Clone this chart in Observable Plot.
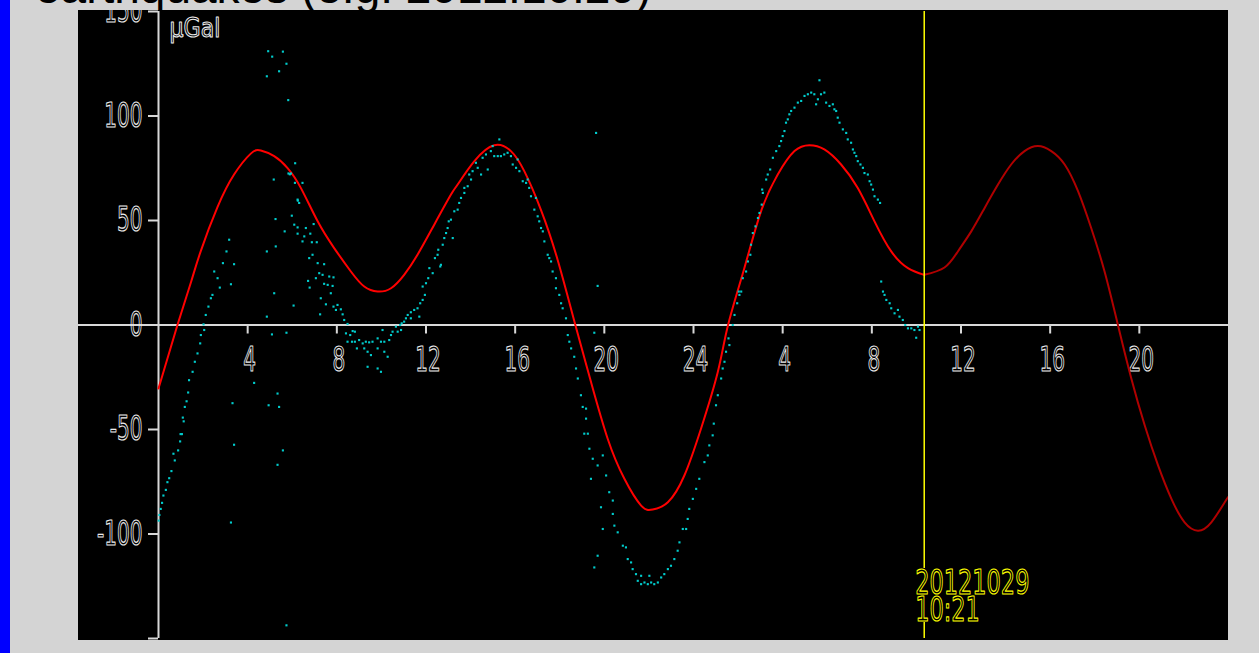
<!DOCTYPE html>
<html><head><meta charset="utf-8">
<script src="https://cdn.jsdelivr.net/npm/d3@7"></script>
<script src="https://cdn.jsdelivr.net/npm/@observablehq/plot@0.6"></script>
<style>
html,body{margin:0;padding:0;background:#d4d4d4;width:1259px;height:653px;overflow:hidden;position:relative}
#bar{position:absolute;left:0;top:0;width:10px;height:653px;background:#0000ff}
#title{position:absolute;left:35px;top:-36px;font:46px/46px "Liberation Sans",Arial,sans-serif;color:#000;white-space:nowrap}
#chart{position:absolute;left:78px;top:10px}
</style></head><body>
<div id="title">earthquakes (e.g. 2012.10.29)</div>
<div id="bar"></div>
<div id="chart"></div>
<script>
// ---- data ----
const tideHours = [0,0.85,1.46,1.9,2.65,3.39,4.14,4.59,5.19,5.79,6.39,7.14,7.88,8.63,9.23,9.83,10.43,11.02,11.62,12.37,13.12,13.42,14.17,15.06,15.81,16.41,17.16,17.91,18.7,19.4,20.15,20.9,21.65,22.17,22.85,23.59,24.34,25.09,25.55,26.28,27.03,27.78,28.53,29.2,29.87,30.62,31.37,32.12,32.87,33.62,34.35,35.26,35.86,36.46,37.06,37.66,38.25,38.85,39.45,40.05,40.65,41.25,41.84,42.44,43.04,43.64,44.24,44.84,45.44,46.03,46.63,47.23,47.83,48.05];
const tideValues = [-30.4,0,20.6,35.5,56.5,72,82,83.5,80.8,75.1,65.5,49.6,36.8,25.6,18.4,16.0,17.6,24.0,33.6,48,62.4,67.2,78.4,86.0,83.2,73.6,55,31,0,-27.2,-54.4,-73.6,-86.4,-88.3,-84.8,-72,-49.5,-22.5,0,27.2,54.4,72,83.2,86,84,76.8,65.5,49.6,35.2,27.2,24,27.5,35.2,44.8,56,67.2,76.8,83.2,85.6,83.2,76.8,64,46.4,25.6,0,-25.6,-48,-67.2,-83.2,-94.4,-98.4,-94.4,-84.8,-81.6];

const obsHours = [0.01,0.04,0.1,0.16,0.22,0.33,0.4,0.48,0.58,0.67,0.73,0.88,0.97,0.99,1.05,1.09,1.13,1.18,1.26,1.33,1.37,1.53,1.63,1.75,1.87,1.9,2.05,2.02,2.12,2.24,2.35,2.42,2.5,2.75,2.65,2.89,3.05,3.17,3.25,3.39,
3.25,3.32,3.39,4.29,4.86,4.86,4.86,4.92,4.94,5.09,5.1,5.17,5.19,5.25,5.26,5.34,5.34,5.41,5.41,5.58,5.58,5.66,5.74,5.74,5.74,5.82,5.89,6.12,6.13,6.25,6.46,
5.83,5.94,6.24,6.31,5.98,6.09,6.24,6.61,6.96,6.24,6.54,6.81,6.46,6.88,7.1,6.91,6.76,7.14,7.43,7.21,7.36,7.66,7.85,7.06,7.43,7.59,6.71,6.78,7.81,7.28,7.73,6.06,7.51,7.85,8.03,7.96,8.18,7.25,8.26,8.33,8.48,8.71,8.6,8.81,8.41,8.48,8.68,8.81,9.0,9.16,9.3,9.45,9.6,9.83,9.98,10.13,10.05,10.35,10.43,10.5,10.73,10.65,10.84,10.91,10.88,8.9,9.23,9.38,9.53,9.83,10.13,10.28,9.38,9.83,9.98,
11.02,11.1,11.18,11.32,11.47,11.62,11.74,11.85,11.7,11.32,11.95,11.85,12.0,12.1,12.15,12.3,12.4,12.52,12.64,12.55,12.75,12.82,12.9,12.97,13.02,12.67,
13.2,13.12,13.27,13.42,13.49,13.57,13.72,13.72,13.87,14.02,13.94,14.09,14.32,14.47,14.24,14.54,14.69,14.77,14.91,15.06,15.22,15.36,15.51,15.66,15.81,14.99,15.29,15.89,16.04,16.11,16.19,16.34,16.49,16.56,16.63,16.71,16.93,16.86,17.01,17.08,17.16,17.24,17.31,17.46,17.53,17.61,17.68,17.83,17.83,17.98,18.06,18.13,18.28,18.36,18.43,18.51,18.65,18.73,18.81,18.95,19.03,19.18,19.18,19.1,19.26,19.33,19.48,19.4,19.7,19.93,20.08,20.22,20.38,19.85,19.93,20.38,20.45,20.6,20.83,20.97,21.05,21.2,21.27,21.42,21.5,21.65,21.8,21.95,22.1,22.24,22.4,21.65,22.02,22.55,22.69,22.85,22.99,23.14,23.29,23.37,23.52,23.67,23.74,23.81,23.97,24.12,24.26,24.49,24.64,24.71,24.86,24.91,25.01,25.09,25.24,25.31,25.39,25.46,25.57,25.76,25.84,25.96,26.03,
19.63,19.7,19.55,19.7,19.55,
25.61,26.06,26.14,26.21,26.36,26.44,26.55,26.58,26.66,26.78,26.89,26.96,27.06,27.11,27.08,27.26,27.33,27.44,27.56,27.71,27.85,27.93,28.0,28.08,28.15,28.23,28.3,28.38,28.53,28.68,28.83,28.98,29.13,29.28,29.42,29.5,29.65,29.58,29.72,29.87,29.95,30.1,30.25,30.32,30.4,30.47,30.55,30.7,30.85,30.92,31.07,31.15,31.22,31.3,31.37,31.49,31.6,31.67,31.82,31.9,31.97,32.05,32.12,32.27,32.37,
32.42,32.5,32.57,32.65,32.8,32.87,33.02,33.17,33.24,33.39,33.5,33.62,33.77,33.91,34.07,33.99,34.14];
const obsValues = [-93.6,-90.9,-88,-85.1,-81.6,-78.9,-75.2,-73.3,-69.9,-61.6,-64.8,-60,-55.7,-52.2,-52.2,-44.3,-46.1,-39.2,-36.5,-32.3,-26.4,-22.4,-17.6,-13.6,-8.8,-4.8,-2.4,0.3,4.8,8.8,12.8,14.4,25.6,17.9,22.4,29.6,35.2,40.8,19.5,29.1,
-94.5,-37.4,-57.3,-27.7,119,35.2,4,131,-38.4,-4.5,128.4,69.6,15.2,50.7,37.6,-32.8,-66.9,121.4,-39.2,130.8,-60,44.8,125,-3.7,-143.7,107.6,72.1,68,77.4,59.5,68,
72.5,72.5,60,58.4,52.3,48,46.7,46.4,48.3,43.7,42.4,43.7,40,39.6,39.6,33.6,32,29.6,29.1,24.8,24,23.2,22.8,22.4,19.7,19.2,21.1,17.9,18.7,12.8,15.2,9.3,9.9,8.8,9.6,7.2,7.5,5.1,5.1,2.4,0.5,-2.9,-4.8,-3.2,-4,-8,-8,-8,-7.2,-8.8,-8,-8.3,-8,-6.4,-8,-8,-2.4,-7.2,-4.8,-3.2,-3.2,-0.8,0,0.8,-2.4,-11.2,-11.2,-12.8,-14.4,-11.2,-12.8,-15.2,-20,-20.8,-22.4,
1.6,3.2,4.8,6.1,7.2,8,10.4,12,4,3.2,14.4,18.4,20,22.4,27.2,24.8,32,33.6,28,36,38.4,41.6,44,46.4,49.6,28.8,
41.6,50.4,54.4,55.2,58.4,60.8,63.2,65.6,66.4,69.6,72,73.6,75.2,72,77.6,80,81.6,74.4,83.2,80.8,80.8,80.8,81.6,82.4,80.8,85.6,88.8,76.8,75.2,79.2,73.6,68.8,68,69.6,65.6,61.6,60.8,55.2,52,49.6,46.4,44.8,40,33.6,32,30.4,25.6,22.4,17.6,14.4,10.4,8,3.2,-4.8,-8,-11.2,-15.2,-20.8,-25.6,-33.6,-39.2,-40,-44.8,-52,-52,-59.2,-64,-73.6,-67.2,-62.4,-72,-80,-84,-87.2,-97.6,-90.4,-96,-99.2,-105.6,-106.4,-112,-113.6,-116.8,-119.2,-122.4,-124,-123.2,-124,-123.2,-124,-123.2,-120,-120,-120.8,-119.2,-116.8,-115.2,-112,-108,-104,-97.6,-97.6,-92.8,-88,-83.2,-78.4,-73.6,-65.6,-62.4,-57.6,-52.8,-47.2,-38.4,-33.6,-25.6,-20.8,-17.6,-12.8,-6.4,0,4.8,10.4,16,
91.9,18.7,-3.7,-110.4,-116,
-9.6,14.4,16,22.4,25.6,30.4,33.6,38.4,44,47.2,51.2,53.6,57.6,63.2,64.8,69.6,72,74.4,80,83.2,85.6,88,90.4,92.8,96.8,98.4,100.8,102.4,104,106.4,107.2,109.6,110.4,111.2,110.4,105.6,117.1,108,110.4,111.2,106.4,104.8,105.6,103.2,102.4,99.2,96.8,93.6,91.9,88.8,87.2,84,82.4,80.8,78.4,76.8,75.2,72.7,72,68.8,67.2,64.8,61.6,60,58.4,
20.8,16,14.4,12,10.4,8,5.6,7.2,4,2.4,0,-1.6,-1.6,-2.4,-0.8,-6.1,-2.4];

const xTicks = [4,8,12,16,20,24,28,32,36,40,44];
const yTicks = [150,100,50,0,-50,-100,-150];
const yLabels = [150,100,50,0,-50,-100];
const xDomain = [0,48];
const yDomain = [-150,150];
const eventHour = 34.35;
const eventDate = "20121029";
const eventTime = "10:21";
const unitLabel = "μGal";

// ---- build ----
const tide = tideHours.map((h,i)=>({h, v: tideValues[i]}));
const obs = obsHours.map((h,i)=>({h, v: obsValues[i]}));
const past = tide.filter(d => d.h <= eventHour);
const future = tide.filter(d => d.h >= eventHour);
const eventText = eventDate + "\n" + eventTime;

const W = 1150, H = 630, ML = 80, MR = 0, MT = 1, MB = 2;
const labelFont = "DejaVu Sans";
const outline = {fill: "none", stroke: "#ececec", strokeWidth: 1, fontFamily: labelFont, fontSize: 34};
const yPix = d3.scaleLinear(yDomain, [H - MB, MT]);
const axisDy = yPix(0) - (H - MB);
// gap in the event rule where its label sits (layout, px from the frame bottom)
const gapTop = 70, gapBottom = 16;

const xFmt = d => String(d % 24 === 0 ? 24 : d % 24);

const chart = Plot.plot({
  width: W, height: H,
  marginLeft: ML, marginRight: MR, marginTop: MT, marginBottom: MB,
  x: {domain: xDomain},
  y: {domain: yDomain},
  style: {background: "black", color: "#d8d8d8", overflow: "hidden", fontFamily: labelFont},
  marks: [
    Plot.ruleY([0], {stroke: "#d8d8d8", strokeWidth: 2, insetLeft: -ML}),
    Plot.ruleX([0], {stroke: "#d8d8d8", strokeWidth: 2}),
    Plot.axisY(yTicks, {anchor: "left", tickSize: 10, tickFormat: () => "", stroke: "#d8d8d8", strokeWidth: 2, label: null}),
    Plot.axisX(xTicks, {anchor: "bottom", tickSize: 9, tickFormat: () => "", stroke: "#d8d8d8", strokeWidth: 2, dy: axisDy, label: null}),
    Plot.text(yLabels, {x: () => xDomain[0], y: d => d, text: d => String(d), dx: -16, textAnchor: "end", ...outline}),
    Plot.text(xTicks, {x: d => d, y: () => 0, text: xFmt, dy: 35, dx: 2, textAnchor: "middle", lineAnchor: "middle", ...outline}),
    Plot.text([unitLabel], {frameAnchor: "top-left", dx: 11, dy: 7, lineAnchor: "top", textAnchor: "start", fill: "none", stroke: "#ececec", strokeWidth: 1, fontFamily: labelFont, fontSize: 26}),
    Plot.line(past, {x: "h", y: "v", stroke: "#ff0000", strokeWidth: 2, curve: "natural"}),
    Plot.line(future, {x: "h", y: "v", stroke: "#b00000", strokeWidth: 2, curve: "natural"}),
    Plot.dot(obs, {x: "h", y: "v", r: 1.2, symbol: "square", fill: "#00cccc"}),
    Plot.ruleX([eventHour], {stroke: "#ffff00", strokeWidth: 1.5, insetBottom: gapTop}),
    Plot.ruleX([eventHour], {stroke: "#ffff00", strokeWidth: 1.5, insetTop: H - MT - MB - gapBottom}),
    Plot.text([eventText], {x: () => eventHour, y: () => yDomain[0], dy: -39.5, dx: -9, textAnchor: "start", lineAnchor: "middle", lineHeight: 0.8, fill: "none", stroke: "#ffff00", strokeWidth: 1, fontFamily: labelFont, fontSize: 34})
  ]
});

// narrow the stroke-font-like labels horizontally
const narrow = new Map();
yLabels.forEach(d => narrow.set(String(d), 0.59));
xTicks.forEach(d => narrow.set(xFmt(d), 0.59));
narrow.set(unitLabel, 0.85);
narrow.set(eventDate + eventTime, 0.66);
narrow.set(eventText, 0.66);
chart.querySelectorAll("text").forEach(t => {
  const s = narrow.get(t.textContent);
  if (s === undefined || t.textContent === "") return;
  const tr = t.getAttribute("transform") || "";
  t.setAttribute("transform", tr + ` scale(${s},1)`);
  t.setAttribute("vector-effect", "non-scaling-stroke");
  t.querySelectorAll("tspan").forEach(ts => ts.setAttribute("vector-effect", "non-scaling-stroke"));
});

document.getElementById("chart").appendChild(chart);
</script>
</body></html>
